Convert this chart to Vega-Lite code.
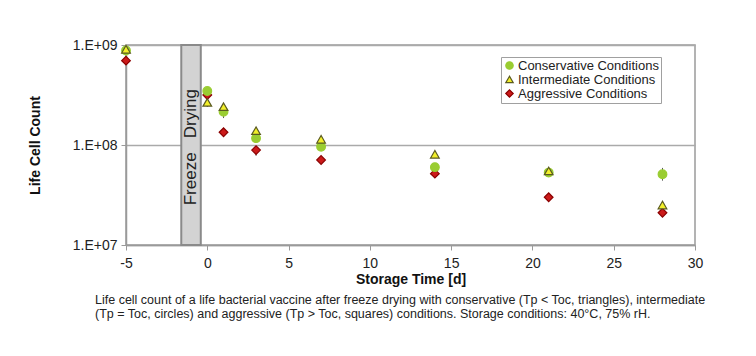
{
  "$schema": "https://vega.github.io/schema/vega-lite/v6.json",
  "autosize": {"type": "none"},
  "width": 569,
  "height": 200,
  "padding": {"left": 126, "top": 45, "right": 61, "bottom": 111},
  "background": "white",
  "config": {
    "font": "Liberation Sans",
    "view": {"stroke": "#9a9a9a", "strokeWidth": 1.5},
    "axis": {"labelFont": "Liberation Sans", "titleFont": "Liberation Sans", "labelColor": "#222", "titleColor": "#111", "domainColor": "#9a9a9a", "tickColor": "#9a9a9a", "domainWidth": 1.5}
  },
  "title": {
    "text": [
      "Life cell count of a life bacterial vaccine after freeze drying with conservative (Tp < Toc, triangles), intermediate",
      "(Tp = Toc, circles) and aggressive (Tp > Toc, squares) conditions. Storage conditions: 40°C, 75% rH."
    ],
    "orient": "bottom",
    "anchor": "start",
    "frame": "group",
    "dx": -31,
    "offset": 8,
    "fontSize": 12.5,
    "fontWeight": "normal",
    "font": "Liberation Sans",
    "color": "#222",
    "lineHeight": 14
  },
  "datasets": {
    "fd": [{"start": -1.6, "end": -0.4, "label": "Freeze\u00a0\u00a0\u00a0Drying", "mid": -1.0, "ypos": 95000000}],
    "pts": [
      {"day": -5, "series": "Conservative Conditions", "count": 880000000},
      {"day": 0, "series": "Conservative Conditions", "count": 347000000},
      {"day": 1, "series": "Conservative Conditions", "count": 215000000},
      {"day": 3, "series": "Conservative Conditions", "count": 117000000},
      {"day": 7, "series": "Conservative Conditions", "count": 96000000},
      {"day": 14, "series": "Conservative Conditions", "count": 60000000},
      {"day": 21, "series": "Conservative Conditions", "count": 53000000},
      {"day": 28, "series": "Conservative Conditions", "count": 51000000},
      {"day": -5, "series": "Intermediate Conditions", "count": 906000000},
      {"day": 0, "series": "Intermediate Conditions", "count": 267000000},
      {"day": 1, "series": "Intermediate Conditions", "count": 242000000},
      {"day": 3, "series": "Intermediate Conditions", "count": 139000000},
      {"day": 7, "series": "Intermediate Conditions", "count": 114000000},
      {"day": 14, "series": "Intermediate Conditions", "count": 80700000},
      {"day": 21, "series": "Intermediate Conditions", "count": 55000000},
      {"day": 28, "series": "Intermediate Conditions", "count": 25100000},
      {"day": -5, "series": "Aggressive Conditions", "count": 697000000},
      {"day": 0, "series": "Aggressive Conditions", "count": 316000000},
      {"day": 1, "series": "Aggressive Conditions", "count": 134000000},
      {"day": 3, "series": "Aggressive Conditions", "count": 89000000},
      {"day": 7, "series": "Aggressive Conditions", "count": 70800000},
      {"day": 14, "series": "Aggressive Conditions", "count": 51700000},
      {"day": 21, "series": "Aggressive Conditions", "count": 30000000},
      {"day": 28, "series": "Aggressive Conditions", "count": 21000000}
    ],
    "err": [
      {"day": 28, "lo": 44000000, "hi": 59000000},
      {"day": 1, "lo": 186000000, "hi": 242000000},
      {"day": 0, "lo": 240000000, "hi": 290000000},
      {"day": 3, "lo": 78000000, "hi": 95000000},
      {"day": -5, "lo": 820000000, "hi": 960000000}
    ]
  },
  "layer": [
    {
      "data": {"name": "fd"},
      "mark": {"type": "rect", "fill": "#d3d3d3", "stroke": "#8a8a8a", "strokeWidth": 2},
      "encoding": {
        "x": {"field": "start", "type": "quantitative", "scale": {"domain": [-5, 30], "nice": false}},
        "x2": {"field": "end"}
      }
    },
    {
      "data": {"name": "fd"},
      "mark": {"type": "text", "angle": 270, "fontSize": 17, "color": "#222", "align": "center", "baseline": "middle"},
      "encoding": {
        "x": {"field": "mid", "type": "quantitative"},
        "y": {"field": "ypos", "type": "quantitative"},
        "text": {"field": "label"}
      }
    },
    {
      "data": {"name": "err"},
      "mark": {"type": "rule", "color": "#555", "strokeWidth": 1},
      "encoding": {
        "x": {"field": "day", "type": "quantitative"},
        "y": {"field": "lo", "type": "quantitative"},
        "y2": {"field": "hi"}
      }
    },
    {
      "data": {"name": "pts"},
      "mark": {"type": "point", "filled": true, "size": 75, "strokeWidth": 1.2, "opacity": 1, "fillOpacity": 1, "strokeOpacity": 1},
      "encoding": {
        "x": {"field": "day", "type": "quantitative", "scale": {"domain": [-5, 30], "nice": false},
          "axis": {"values": [-5, 0, 5, 10, 15, 20, 25, 30], "grid": false, "labelFontSize": 14, "labelFlush": false, "labelExpr": "replace(datum.label, '−', '-')", "title": "Storage Time [d]", "titleFontSize": 14, "titleFontWeight": "bold", "titlePadding": 2, "tickSize": 5, "labelPadding": 6}},
        "y": {"field": "count", "type": "quantitative", "scale": {"type": "log", "domain": [10000000, 1000000000], "nice": false},
          "axis": {"values": [10000000, 100000000, 1000000000], "grid": true, "gridColor": "#aaaaaa", "gridWidth": 1.5, "labelFontSize": 14, "labelExpr": "'1.E+0' + round(log(datum.value)/LN10)", "title": "Life Cell Count", "titleFontSize": 14, "titleFontWeight": "bold", "titlePadding": 30, "tickSize": 5, "labelPadding": 4}},
        "fill": {"field": "series", "type": "nominal",
          "scale": {"domain": ["Conservative Conditions", "Intermediate Conditions", "Aggressive Conditions"], "range": ["#9acd32", "#f2ef2a", "#cc1a1a"]},
          "legend": {"title": null, "orient": "none", "legendX": 375, "legendY": 12, "strokeColor": "#a0a0a0", "padding": 2, "labelFontSize": 13, "labelFont": "Liberation Sans", "labelColor": "#222", "rowPadding": 0, "symbolSize": 55, "labelOffset": 2, "symbolStrokeWidth": 1.2, "fillColor": "white"}},
        "shape": {"field": "series", "type": "nominal",
          "scale": {"domain": ["Conservative Conditions", "Intermediate Conditions", "Aggressive Conditions"], "range": ["circle", "triangle-up", "diamond"]},
          "legend": {"title": null, "orient": "none", "legendX": 375, "legendY": 12, "strokeColor": "#a0a0a0", "padding": 2, "labelFontSize": 13, "labelFont": "Liberation Sans", "labelColor": "#222", "rowPadding": 0, "symbolSize": 55, "labelOffset": 2, "symbolStrokeWidth": 1.2, "fillColor": "white"}},
        "stroke": {"field": "series", "type": "nominal",
          "scale": {"domain": ["Conservative Conditions", "Intermediate Conditions", "Aggressive Conditions"], "range": ["#9acd32", "#5a5a20", "#8b0000"]},
          "legend": {"title": null, "orient": "none", "legendX": 375, "legendY": 12, "strokeColor": "#a0a0a0", "padding": 2, "labelFontSize": 13, "labelFont": "Liberation Sans", "labelColor": "#222", "rowPadding": 0, "symbolSize": 55, "labelOffset": 2, "symbolStrokeWidth": 1.2, "fillColor": "white"}},
        "order": {"field": "series", "sort": "ascending"}
      }
    }
  ]
}
